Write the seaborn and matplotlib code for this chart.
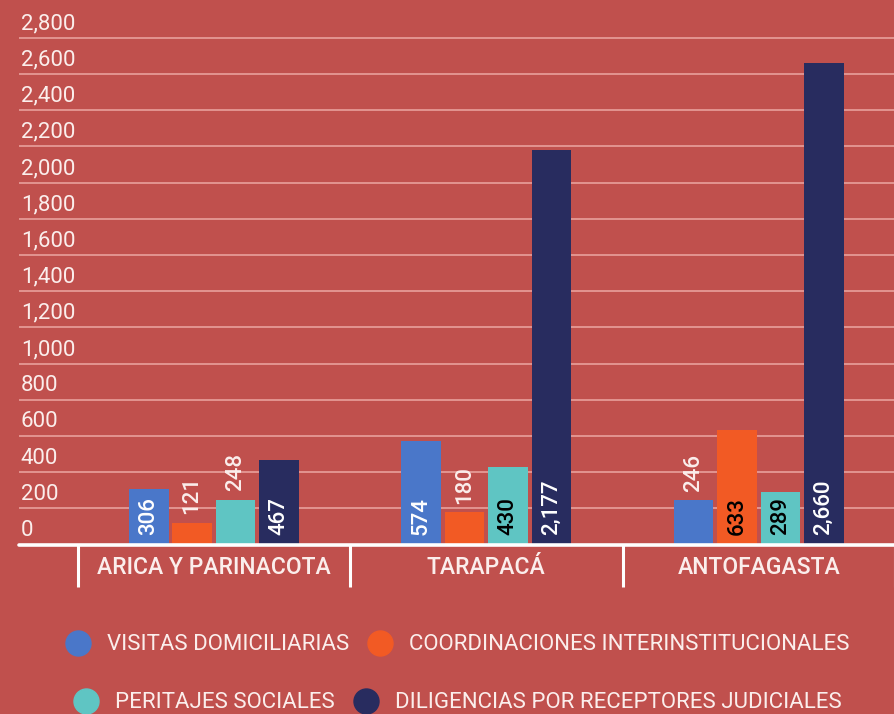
import matplotlib
matplotlib.use("Agg")
import matplotlib.pyplot as plt
import matplotlib.transforms as mtransforms
from matplotlib.lines import Line2D
import seaborn as sns
import pandas as pd
import numpy as np

# ---- data ----
regions = ["ARICA Y PARINACOTA", "TARAPACÁ", "ANTOFAGASTA"]
series = ["VISITAS DOMICILIARIAS", "COORDINACIONES INTERINSTITUCIONALES",
          "PERITAJES SOCIALES", "DILIGENCIAS POR RECEPTORES JUDICIALES"]
visitas = [306, 574, 246]
coordinaciones = [121, 180, 633]
peritajes = [248, 430, 289]
diligencias = [467, 2177, 2660]
yticks = [0, 200, 400, 600, 800, 1000, 1200, 1400, 1600, 1800, 2000, 2200, 2400, 2600, 2800]
ytick_labels = ["0", "200", "400", "600", "800", "1,000", "1,200", "1,400", "1,600",
                "1,800", "2,000", "2,200", "2,400", "2,600", "2,800"]

# ---- style ----
bg = "#C0504D"
colors = ["#4A77C9", "#F25A24", "#5FC5C3", "#282C5F"]
inside_colors = ["white", "black", "black", "white"]
txt = "#FBEEEC"

sns.set_style("white")
plt.rcParams["font.family"] = ["Roboto", "DejaVu Sans"]

values = visitas + coordinaciones + peritajes + diligencias
df = pd.DataFrame({
    "region": regions * 4,
    "serie": np.repeat(series, len(regions)),
    "value": values,
})

W, H = 895, 714
fig = plt.figure(figsize=(W / 100, H / 100), dpi=100, facecolor=bg)
base_px = 544.5
ax = fig.add_axes([19 / W, (H - base_px) / H, 1 - 19 / W, base_px / H])
ax.set_facecolor(bg)

sns.barplot(data=df, x="region", y="value", hue="serie", order=regions,
            hue_order=series, palette=colors, width=0.637, gap=0.088,
            saturation=1, errorbar=None, legend=False, ax=ax,
            edgecolor="none", linewidth=0)

ppu = 0.181  # pixels per unit
ax.set_ylim(0, base_px / ppu)
ax.set_xlim(-0.715, 2.455)

for s in ax.spines.values():
    s.set_visible(False)

# gridlines
ax.set_yticks(yticks)
ax.set_yticklabels([])
ax.tick_params(axis="y", length=0)
ax.yaxis.grid(True, color="#E59A96", lw=1.3)
ax.set_axisbelow(True)
ax.axhline(0, color="white", lw=2.6, clip_on=False, zorder=3)

ytrans = ax.get_yaxis_transform() + mtransforms.ScaledTranslation(0, 8.5 / 100, fig.dpi_scale_trans)
for v, lab in zip(yticks, ytick_labels):
    ax.text(0.002, v, lab, transform=ytrans, ha="left", va="baseline",
            fontsize=16, color=txt)

# x axis
ax.set_xlabel("")
ax.set_ylabel("")
ax.set_xticks(range(len(regions)))
ax.set_xticklabels(regions, fontsize=16.5, color=txt, fontweight="medium")
ax.tick_params(axis="x", which="major", length=0, pad=8)
ax.set_xticks([-0.5, 0.5, 1.5, 2.5], minor=True)
ax.tick_params(axis="x", which="minor", bottom=True, length=30, width=2.2,
               color="white", direction="out")

# value labels
for i, cont in enumerate(ax.containers):
    for bar, v in zip(cont, [visitas, coordinaciones, peritajes, diligencias][i]):
        x = bar.get_x() + bar.get_width() / 2
        label = f"{v:,}"
        if v * ppu > 50:
            ax.annotate(label, (x, 0), xytext=(0, 6.5), textcoords="offset points",
                        rotation=90, ha="center", va="bottom", fontsize=16,
                        fontweight="medium", color=inside_colors[i])
        else:
            ax.annotate(label, (x, v), xytext=(0, 6), textcoords="offset points",
                        rotation=90, ha="center", va="bottom", fontsize=16,
                        fontweight="medium", color=txt)

# legend
handles = [Line2D([], [], ls="", marker="o", markersize=18, markerfacecolor=c,
                  markeredgecolor=c) for c in colors]
for row, yc in enumerate([645, 703]):
    leg = fig.legend(handles[2 * row:2 * row + 2], series[2 * row:2 * row + 2],
                     loc="center", bbox_to_anchor=(457 / W, (H - yc) / H), ncol=2,
                     frameon=False, fontsize=16, handlelength=1.2,
                     handletextpad=0.7, columnspacing=0.8, labelcolor=txt)

fig.savefig("out.png", dpi=100, facecolor=bg)
